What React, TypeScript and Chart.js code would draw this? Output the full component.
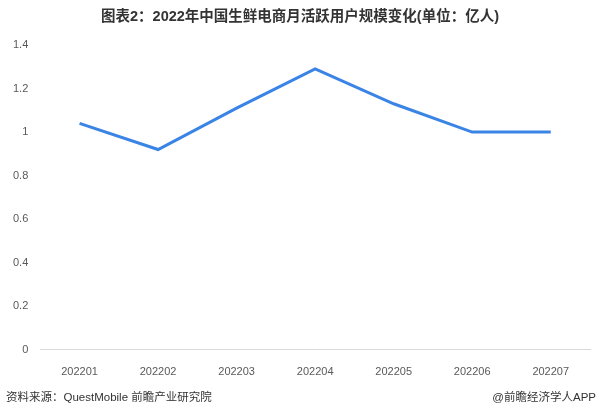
import React, { useEffect, useRef } from "react";
import { Chart, registerables } from "chart.js";

Chart.register(...registerables);

const titleText = "图表2：2022年中国生鲜电商月活跃用户规模变化(单位：亿人)";
const sourceText = "资料来源：QuestMobile 前瞻产业研究院";
const brandText = "@前瞻经济学人APP";
const months = ["202201", "202202", "202203", "202204", "202205", "202206", "202207"];
const users = [1.04, 0.92, 1.11, 1.29, 1.13, 1.0, 1.0];
const yTicks = [0, 0.2, 0.4, 0.6, 0.8, 1, 1.2, 1.4];

const FONT = "'Liberation Sans', 'Noto Sans CJK SC', sans-serif";

const textPlugin = {
  id: "texts",
  afterDraw(chart: any) {
    const ctx = chart.ctx;
    ctx.save();
    ctx.fillStyle = "#333333";
    ctx.font = `bold 14.5px ${FONT}`;
    ctx.textAlign = "center";
    ctx.textBaseline = "middle";
    ctx.fillText(titleText, 300, 17);
    ctx.font = `11.5px ${FONT}`;
    ctx.textAlign = "left";
    ctx.fillText(sourceText, 6, 398);
    ctx.textAlign = "right";
    ctx.fillText(brandText, 596, 398);
    ctx.restore();
  },
};

export default function App() {
  const ref = useRef<HTMLCanvasElement | null>(null);
  useEffect(() => {
    if (!ref.current) return;
    const chart = new Chart(ref.current, {
      type: "line",
      data: {
        labels: months,
        datasets: [
          {
            data: users,
            borderColor: "#3a84e6",
            borderWidth: 3,
            pointRadius: 0,
            tension: 0,
            fill: false,
          },
        ],
      },
      options: {
        responsive: false,
        animation: false,
        layout: { padding: { top: 45, left: 9, right: 10, bottom: 29 } },
        plugins: {
          legend: { display: false },
          title: { display: false },
          tooltip: { enabled: false },
        },
        scales: {
          x: {
            offset: true,
            grid: { display: false },
            border: { display: true, color: "#d9d9d9", width: 1 },
            ticks: { color: "#595959", font: { size: 11, family: FONT }, padding: 8, maxRotation: 0 },
          },
          y: {
            min: 0,
            max: 1.4,
            afterBuildTicks: (axis: any) => {
              axis.ticks = yTicks.map((v) => ({ value: v }));
            },
            grid: { display: false },
            border: { display: false },
            ticks: {
              color: "#595959",
              font: { size: 11, family: FONT },
              padding: 4,
              callback: (v: any) => String(Math.round(Number(v) * 10) / 10),
            },
          },
        },
      },
      plugins: [textPlugin],
    });
    return () => chart.destroy();
  }, []);
  return (
    <div style={{ position: "fixed", left: 0, top: 0, width: 600, height: 416, background: "#fff" }}>
      <canvas ref={ref} width={600} height={416} />
    </div>
  );
}
